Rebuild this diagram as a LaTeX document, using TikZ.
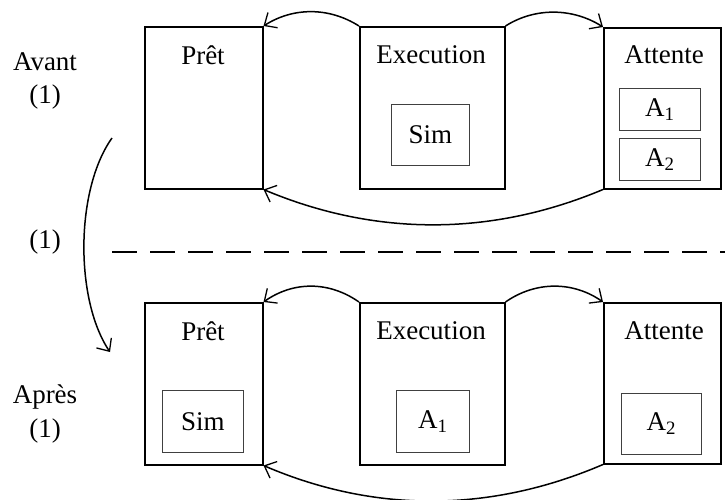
\documentclass[tikz,border=0pt]{standalone}
\usepackage{fontspec}
\setmainfont{Liberation Serif}
\usetikzlibrary{arrows.meta}
\begin{document}
\begin{tikzpicture}[x=1pt,y=-1pt,
  outer/.style={draw=black,line width=1.5pt,anchor=north west,inner sep=0pt},
  inner/.style={draw=black!75,line width=0.9pt,anchor=north west,inner sep=0pt},
  txt/.style={inner sep=0pt,font=\fontsize{27}{32}\selectfont},
  conn/.style={line width=1.5pt,-{Straight Barb[length=10pt,width=18pt,line width=1.3pt]}}]
\useasboundingbox (0,0) rectangle (725,499);
% top row
\node[outer,minimum width=118pt,minimum height=162pt] (p1) at (144,26) {};
\node[outer,minimum width=145pt,minimum height=162pt] (e1) at (359,26) {};
\node[outer,minimum width=117pt,minimum height=161pt] (a1) at (603,27) {};
\node[txt] (p1t) at (203,55) {Prêt};
\node[txt] (e1t) at (431,55) {Execution};
\node[txt] (a1t) at (664,55) {Attente};
\node[inner,minimum width=78pt,minimum height=61pt] (s1) at (391,104) {};
\node[txt] (s1t) at (s1.center) {Sim};
\node[inner,minimum width=81pt,minimum height=42pt] (x1) at (619,88) {};
\node[txt] (x1t) at (x1.center) {A\textsubscript{1}};
\node[inner,minimum width=81pt,minimum height=42pt] (y1) at (619,138) {};
\node[txt] (y1t) at (y1.center) {A\textsubscript{2}};
\draw[conn] (e1.north west) .. controls +(-30,-19) and +(30,-19) .. (p1.north east);
\draw[conn] (e1.north east) .. controls +(30,-19) and +(-30,-19) .. (a1.north west);
\draw[conn] (a1.south west) .. controls +(-112,47) and +(112,47) .. (p1.south east);
% bottom row
\node[outer,minimum width=118pt,minimum height=162pt] (p2) at (144,302) {};
\node[outer,minimum width=145pt,minimum height=162pt] (e2) at (359,302) {};
\node[outer,minimum width=117pt,minimum height=161pt] (a2) at (603,302) {};
\node[txt] (p2t) at (203,331) {Prêt};
\node[txt] (e2t) at (431,331) {Execution};
\node[txt] (a2t) at (664,331) {Attente};
\node[inner,minimum width=81pt,minimum height=62pt] (s2) at (162,390) {};
\node[txt] (s2t) at (s2.center) {Sim};
\node[inner,minimum width=73pt,minimum height=62pt] (x2) at (396,390) {};
\node[txt] (x2t) at (x2.center) {A\textsubscript{1}};
\node[inner,minimum width=80pt,minimum height=61pt] (y2) at (621,393) {};
\node[txt] (y2t) at (y2.center) {A\textsubscript{2}};
\draw[conn] (e2.north west) .. controls +(-30,-21) and +(30,-21) .. (p2.north east);
\draw[conn] (e2.north east) .. controls +(30,-21) and +(-30,-21) .. (a2.north west);
\draw[conn] (a2.south west) .. controls +(-112,48) and +(112,48) .. (p2.south east);
% left labels
\node[txt] (av) at (45,62) {Avant};
\node[txt] (av1) at (45,97) {(1)};
\node[txt] (mid) at (45,242) {(1)};
\node[txt] (ap) at (45,397) {Après};
\node[txt] (ap1) at (45,431) {(1)};
\coordinate (ls) at (112,138);
\coordinate (le) at (110,352);
\draw[conn] (ls) .. controls (75,190) and (75,300) .. (le);
% dashed separator
\coordinate (d1) at (112,252);
\coordinate (d2) at (725,252);
\draw[line width=1.3pt,dash pattern=on 25pt off 13pt] (d1) -- (d2);
\end{tikzpicture}
\end{document}
